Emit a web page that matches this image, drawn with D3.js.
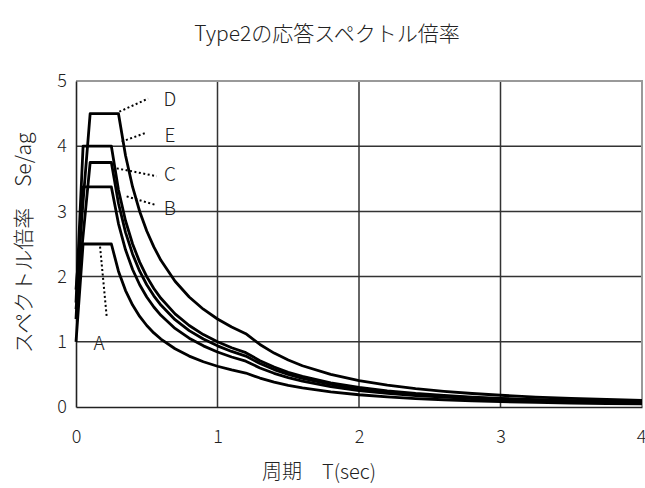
<!DOCTYPE html>
<html><head><meta charset="utf-8">
<script src="https://cdn.jsdelivr.net/npm/d3@7"></script>
<style>
html,body{margin:0;padding:0;background:#fff;}
svg text{font-family:"Noto Sans CJK JP","Noto Sans",sans-serif;fill:#222;font-weight:300;}
</style></head>
<body>
<svg id="c" width="645" height="488"></svg>
<script>
// ---- data ----
const periods = [0, 0.05, 0.1, 0.25, 0.3, 0.35, 0.4, 0.45, 0.5, 0.55, 0.6, 0.7, 0.8, 0.9, 1.0, 1.1, 1.2, 1.3, 1.4, 1.5, 1.6, 1.8, 2.0, 2.2, 2.4, 2.6, 2.8, 3.0, 3.25, 3.5, 3.75, 4.0];
const seriesNames = ["A", "B", "C", "D", "E"];
const valuesA = [1.0, 2.5, 2.5, 2.5, 2.083, 1.786, 1.563, 1.389, 1.25, 1.136, 1.042, 0.893, 0.781, 0.694, 0.625, 0.568, 0.521, 0.444, 0.383, 0.333, 0.293, 0.231, 0.188, 0.155, 0.130, 0.111, 0.096, 0.083, 0.071, 0.061, 0.053, 0.047];
const valuesB = [1.35, 3.375, 3.375, 3.375, 2.813, 2.411, 2.109, 1.875, 1.688, 1.534, 1.406, 1.205, 1.055, 0.938, 0.844, 0.767, 0.703, 0.599, 0.517, 0.45, 0.396, 0.313, 0.253, 0.209, 0.176, 0.150, 0.129, 0.113, 0.096, 0.083, 0.072, 0.063];
const valuesC = [1.5, 2.625, 3.75, 3.75, 3.125, 2.679, 2.344, 2.083, 1.875, 1.705, 1.563, 1.339, 1.172, 1.042, 0.938, 0.852, 0.781, 0.666, 0.574, 0.5, 0.439, 0.347, 0.281, 0.232, 0.195, 0.166, 0.143, 0.125, 0.107, 0.092, 0.080, 0.070];
const valuesD = [1.8, 3.15, 4.5, 4.5, 4.5, 3.857, 3.375, 3.0, 2.7, 2.455, 2.25, 1.929, 1.688, 1.5, 1.35, 1.227, 1.125, 0.959, 0.827, 0.72, 0.633, 0.5, 0.405, 0.335, 0.281, 0.240, 0.207, 0.18, 0.153, 0.132, 0.115, 0.101];
const valuesE = [1.6, 4.0, 4.0, 4.0, 3.333, 2.857, 2.5, 2.222, 2.0, 1.818, 1.667, 1.429, 1.25, 1.111, 1.0, 0.909, 0.833, 0.710, 0.612, 0.533, 0.469, 0.370, 0.3, 0.248, 0.208, 0.178, 0.153, 0.133, 0.114, 0.098, 0.085, 0.075];
const xTicks = [0, 1, 2, 3, 4];
const yTicks = [0, 1, 2, 3, 4, 5];
const titleText = "Type2の応答スペクトル倍率";
const xTitle = "周期　T(sec)";
const yTitle = "スペクトル倍率　Se/ag";

const seriesValues = {A: valuesA, B: valuesB, C: valuesC, D: valuesD, E: valuesE};

// ---- layout ----
const svg = d3.select("#c");
const x = d3.scaleLinear().domain([0, 4]).range([76, 642]);
const y = d3.scaleLinear().domain([0, 5]).range([407, 81]);

// grid
svg.append("g").selectAll("line").data(yTicks.filter(d => d > 0 && d < 5)).join("line")
  .attr("x1", x(0)).attr("x2", x(4)).attr("y1", d => y(d)).attr("y2", d => y(d))
  .attr("stroke", "#333").attr("stroke-width", 1.5);
svg.append("g").selectAll("line").data(xTicks.filter(d => d > 0 && d < 4)).join("line")
  .attr("y1", y(0)).attr("y2", y(5)).attr("x1", d => x(d)).attr("x2", d => x(d))
  .attr("stroke", "#333").attr("stroke-width", 1.5);

// frame top/right (grey)
svg.append("path").attr("d", `M${x(0)},${y(5)}H${x(4)}V${y(0)}`)
  .attr("fill", "none").attr("stroke", "#999").attr("stroke-width", 2);

// axes
const xAxis = d3.axisBottom(x).tickValues(xTicks).tickSize(0).tickPadding(23).tickFormat(d3.format("d"));
const yAxis = d3.axisLeft(y).tickValues(yTicks).tickSize(0).tickPadding(9).tickFormat(d3.format("d"));
const gx = svg.append("g").attr("transform", `translate(0,${y(0)})`).call(xAxis);
const gy = svg.append("g").attr("transform", `translate(${x(0)},0)`).call(yAxis);
[gx, gy].forEach(g => {
  g.select(".domain").attr("stroke", "#222").attr("stroke-width", 1.6);
  g.selectAll("text").attr("font-size", 18).attr("fill", "#222")
    .style("font-family", '"Noto Sans CJK JP",sans-serif').style("font-weight", 300);
});
gx.selectAll(".tick").filter(d => d === 4).select("text").attr("text-anchor", "end").attr("dx", 4);

// curves
const line = d3.line().x(d => x(d[0])).y(d => y(d[1]));
svg.append("g").selectAll("path").data(seriesNames).join("path")
  .attr("d", n => line(periods.map((t, i) => [t, seriesValues[n][i]])))
  .attr("fill", "none").attr("stroke", "#000").attr("stroke-width", 2.8)
  .attr("stroke-linejoin", "round");

// annotations: leader lines (data coords) and labels
const annotations = [
  {name: "D", from: [0.306, 4.53], to: [0.51, 4.73], label: [0.664, 4.75]},
  {name: "E", from: [0.323, 4.07], to: [0.50, 4.21], label: [0.664, 4.20]},
  {name: "C", from: [0.288, 3.66], to: [0.57, 3.54], label: [0.664, 3.60]},
  {name: "B", from: [0.358, 3.23], to: [0.56, 3.10], label: [0.664, 3.07]},
  {name: "A", from: [0.17, 2.46], to: [0.217, 1.385], label: [0.163, 1.0]}
];
svg.append("g").selectAll("line").data(annotations).join("line")
  .attr("x1", d => x(d.from[0])).attr("y1", d => y(d.from[1]))
  .attr("x2", d => x(d.to[0])).attr("y2", d => y(d.to[1]))
  .attr("stroke", "#000").attr("stroke-width", 2).attr("stroke-dasharray", "2,2.5");
svg.append("g").selectAll("text").data(annotations).join("text")
  .attr("x", d => x(d.label[0])).attr("y", d => y(d.label[1]))
  .attr("text-anchor", "middle").attr("dominant-baseline", "central")
  .attr("font-size", 19).text(d => d.name);

// titles
svg.append("text").attr("x", 327).attr("y", 32).attr("text-anchor", "middle")
  .attr("dominant-baseline", "central").attr("font-size", 21).text(titleText);
svg.append("text").attr("x", 319).attr("y", 470).attr("text-anchor", "middle")
  .attr("dominant-baseline", "central").attr("font-size", 20).text(xTitle);
svg.append("text").attr("transform", "translate(22,243) rotate(-90)").attr("text-anchor", "middle")
  .attr("dominant-baseline", "central").attr("font-size", 21).text(yTitle);
</script>
</body></html>
